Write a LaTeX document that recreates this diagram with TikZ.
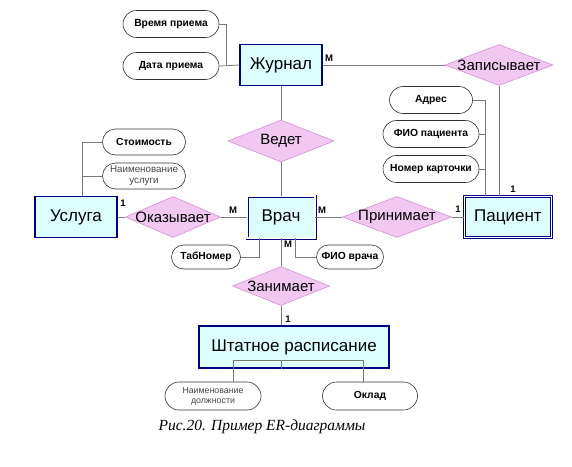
\documentclass[tikz,border=0pt]{standalone}
\usepackage{fontspec}
\setmainfont{Liberation Sans}
\newfontfamily\capfont{Liberation Serif}
\usetikzlibrary{calc,positioning,shapes.geometric,shapes.misc}
\definecolor{entfill}{RGB}{221,255,255}
\definecolor{entline}{RGB}{0,0,128}
\definecolor{relfill}{RGB}{242,200,242}
\definecolor{relline}{RGB}{215,150,215}
\definecolor{conline}{RGB}{120,120,120}
\definecolor{softtext}{RGB}{70,70,70}
\newcommand{\reltext}[1]{\makebox[0pt]{#1}}
\tikzset{
    entity/.style={rectangle,draw=entline,fill=entfill,line width=1.3pt,inner sep=0pt,font=\fontsize{17}{19}\selectfont},
    weakentity/.style={entity,line width=0.8pt,double=white,double distance=1.4pt},
    relation/.style={diamond,draw=relline,fill=relfill,line width=0.7pt,inner sep=0pt,font=\fontsize{15}{17}\selectfont},
    attrib/.style={rounded rectangle,draw=black!80,fill=white,line width=0.6pt,inner sep=0pt,minimum height=27pt,font=\bfseries\fontsize{10.3}{12}\selectfont},
    attribsoft/.style={attrib,align=center,text=softtext,font=\fontsize{9.8}{11}\selectfont},
    conn/.style={draw=conline,line width=0.8pt},
    card/.style={font=\fontsize{9.5}{10}\selectfont\bfseries,inner sep=0pt}
}

\begin{document}
\begin{tikzpicture}[x=1pt,y=-1pt]
  \useasboundingbox (0,0) rectangle (572,466);

  % сущности
  \node[entity,minimum width=82pt,minimum height=41pt] (zhur) at (281,65) {Журнал};
  \node[weakentity,minimum width=68pt,minimum height=42pt] (vrach) at (281,217) {Врач};
  \node[weakentity,minimum width=87pt,minimum height=41pt] (pac) at (508,217) {Пациент};
  \node[entity,minimum width=82pt,minimum height=41pt] (usl) at (76,217) {Услуга};
  \node[entity,minimum width=190pt,minimum height=42pt] (sht) at (294,347) {Штатное расписание};

  % связи
  \node[relation,minimum width=108pt,minimum height=41pt] (zap) at (499,65) {\reltext{Записывает}};
  \node[relation,minimum width=106pt,minimum height=42pt] (ved) at (281,141) {\reltext{Ведет}};
  \node[relation,minimum width=95pt,minimum height=41pt] (oka) at (173,217) {\reltext{Оказывает}};
  \node[relation,minimum width=109pt,minimum height=41pt] (prin) at (397,217) {\reltext{Принимает}};
  \node[relation,minimum width=97pt,minimum height=39pt] (zan) at (281,286) {\reltext{Занимает}};

  % атрибуты
  \node[attrib,minimum width=96pt] (vrem) at (171,24) {Время приема};
  \node[attrib,minimum width=96pt] (data) at (171,66) {Дата приема};
  \node[attrib,minimum width=83pt] (adr) at (431,100) {Адрес};
  \node[attrib,minimum width=96pt] (fiop) at (431,134) {ФИО пациента};
  \node[attrib,minimum width=96pt] (nomk) at (431,169) {Номер карточки};
  \node[attrib,minimum width=83pt,minimum height=26pt] (stoim) at (144,142) {Стоимость};
  \node[attribsoft,minimum width=83pt,minimum height=26pt] (naimu) at (144,176) {Наименование\\услуги};
  \node[attrib,minimum width=69pt,minimum height=24pt] (tab) at (206,257) {ТабНомер};
  \node[attrib,minimum width=67pt,minimum height=24pt] (fiov) at (350,257) {ФИО врача};
  \node[attribsoft,minimum width=96pt,minimum height=28pt,font=\fontsize{8.8}{10}\selectfont] (naimd) at (213,396) {Наименование\\должности};
  \node[attrib,minimum width=95pt,minimum height=28pt] (oklad) at (370,396) {Оклад};

  % шины атрибутов
  \coordinate (zhbus) at ([xshift=-13pt]zhur.west);
  \coordinate (pacbus) at ([xshift=21pt]pac.north west);
  \coordinate (uslbus) at ([xshift=48pt]usl.north west);
  \coordinate (shtbus) at ([yshift=8pt]sht.south -| zan.south);

  % линии
  \draw[conn] (zhur.east) -- (zap.west);
  \draw[conn] (zap.south) -- (zap.south |- pac.north);
  \draw[conn] (zhur.south) -- (ved.north);
  \draw[conn] (ved.south) -- (vrach.north);
  \draw[conn] (usl.east) -- (oka.west);
  \draw[conn] (oka.east) -- (vrach.west);
  \draw[conn] (vrach.east) -- (prin.west);
  \draw[conn] (prin.east) -- (pac.west);
  \draw[conn] (vrach.south) -- (zan.north);
  \draw[conn] (zan.south) -- (zan.south |- sht.north);

  \draw[conn] (vrem.east) -| (zhbus);
  \draw[conn] (data.east) -- (zhur.west);
  \draw[conn] (adr.east) -| (pacbus);
  \draw[conn] (fiop.east) -- (fiop.east -| pacbus);
  \draw[conn] (nomk.east) -- (nomk.east -| pacbus);
  \draw[conn] (stoim.west) -| (uslbus);
  \draw[conn] (naimu.west) -- (naimu.west -| uslbus);
  \draw[conn] (tab.east) -| ([xshift=13pt]vrach.south west);
  \draw[conn] (fiov.west) -| ([xshift=-20pt]vrach.south east);
  \draw[conn] (zan.south |- sht.south) -- (shtbus);
  \draw[conn] ([xshift=20pt]naimd.north) |- (shtbus) -| ([xshift=-7pt]oklad.north);

  % кардинальность
  \node[card] (c1) at (329,58) {М};
  \node[card] (c2) at (123,203) {1};
  \node[card] (c3) at (233,210) {М};
  \node[card] (c4) at (322,210) {М};
  \node[card] (c5) at (458,209) {1};
  \node[card] (c6) at (513,189) {1};
  \node[card] (c7) at (288,244) {М};
  \node[card] (c8) at (288,319) {1};

  % подпись
  \node[font=\capfont\itshape\fontsize{15.5}{18}\selectfont] (cap) at (262,427) {Рис.20. Пример ER-диаграммы};
\end{tikzpicture}
\end{document}
